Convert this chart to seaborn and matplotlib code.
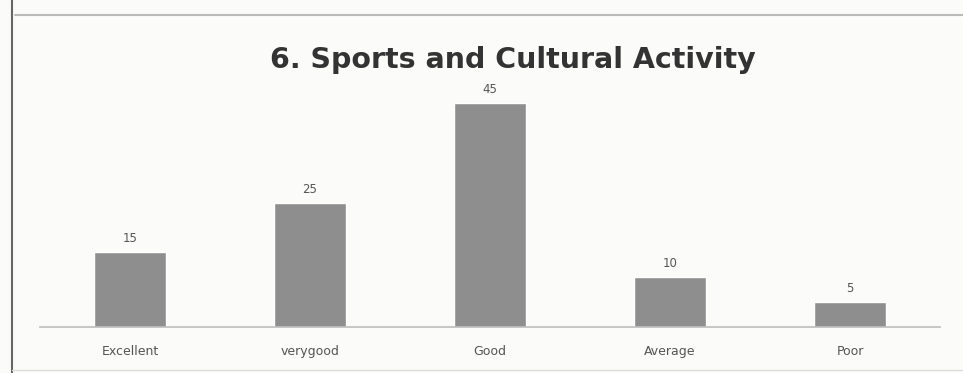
import matplotlib
matplotlib.use("Agg")
import matplotlib.pyplot as plt
from matplotlib.lines import Line2D
import seaborn as sns
import pandas as pd

categories = ["Excellent", "verygood", "Good", "Average", "Poor"]
values = [15, 25, 45, 10, 5]

df = pd.DataFrame({"rating": categories, "count": values})

sns.set_style("white")
plt.rcParams["font.family"] = ["DejaVu Sans"]

fig = plt.figure(figsize=(9.63, 3.73), dpi=100)
fig.patch.set_facecolor("#fbfbfa")
ax = fig.add_axes([40 / 963, 46 / 373, 900 / 963, 249 / 373])
ax.set_facecolor("#fbfbfa")

sns.barplot(x="rating", y="count", data=df, color="#8e8e8e", width=0.4,
            saturation=1, ax=ax)

for i, v in enumerate(values):
    ax.text(i, v + 1.4, str(v), ha="center", va="bottom", fontsize=8.5, color="#555555")

ax.set_xlim(-0.5, 4.5)
ax.set_ylim(0, 50)
ax.set_xlabel("")
ax.set_ylabel("")
ax.set_yticks([])
ax.tick_params(axis="x", length=0, labelsize=9, labelcolor="#555555", pad=13)
for s in ["top", "right", "left"]:
    ax.spines[s].set_visible(False)
ax.spines["bottom"].set_color("#bdbdbd")
ax.spines["bottom"].set_linewidth(1.2)

fig.text(0.533, 0.838, "6. Sports and Cultural Activity", ha="center", va="center",
         fontsize=20.5, fontweight="bold", color="#333333")

# scanned page frame
fig.lines.append(Line2D([12 / 963, 12 / 963], [0, 1], transform=fig.transFigure,
                        color="#666666", linewidth=1.5))
fig.lines.append(Line2D([15 / 963, 963 / 963], [358 / 373, 358 / 373], transform=fig.transFigure,
                        color="#bbbbbb", linewidth=1.5))
fig.lines.append(Line2D([12 / 963, 963 / 963], [3 / 373, 3 / 373], transform=fig.transFigure,
                        color="#dddddd", linewidth=1))

fig.savefig("out.png", dpi=100, facecolor=fig.get_facecolor())
